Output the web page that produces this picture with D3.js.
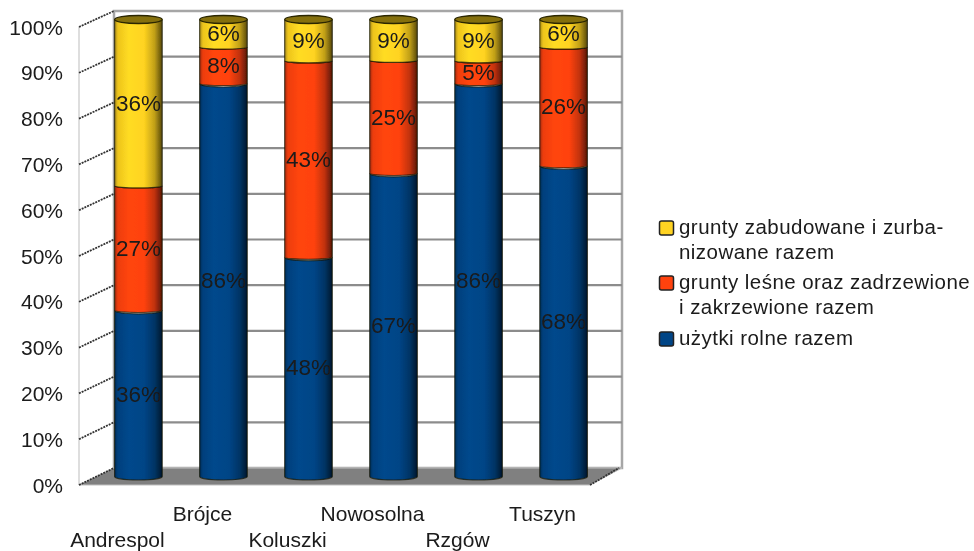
<!DOCTYPE html>
<html>
<head>
<meta charset="utf-8">
<script src="https://cdn.jsdelivr.net/npm/d3@7"></script>
<style>
  body { margin: 0; background: #fff; }
  svg { display: block; }
  text { font-family: "Liberation Sans", Arial, sans-serif; fill: #1a1a1a; }
</style>
</head>
<body>
<script>
// Chart data
const categories = ["Andrespol", "Brójce", "Koluszki", "Nowosolna", "Rzgów", "Tuszyn"];
const uzytki = [36, 86, 48, 67, 86, 68];
const lesne = [27, 8, 43, 25, 5, 26];
const zabudowane = [36, 6, 9, 9, 9, 6];
const seriesKeys = ["uzytki", "lesne", "zabudowane"];
const seriesColors = ["#004586", "#ff420e", "#ffd320"];
const yTicks = [0, 10, 20, 30, 40, 50, 60, 70, 80, 90, 100];

const rows = categories.map((name, i) => ({
  name, uzytki: uzytki[i], lesne: lesne[i], zabudowane: zabudowane[i]
}));

const width = 974;
const height = 551;

// Front edge of the plot and the 3D depth offset to the back wall
const frontLeft = 79;
const frontRight = 590;
const backLeft = 114;
const backRight = 622;

const yFront = d3.scaleLinear().domain([0, 100]).range([485, 27]);
const yBack = d3.scaleLinear().domain([0, 100]).range([468, 11]);
const yBar = d3.scaleLinear().domain([0, 1]).range([476.5, 19.5]);

const x = d3.scaleBand()
  .domain(categories)
  .range([101, 601])
  .paddingInner(0.44)
  .paddingOuter(0.16);

const svg = d3.select("body")
  .append("svg")
  .attr("width", width)
  .attr("height", height)
  .attr("viewBox", [0, 0, width, height]);

const defs = svg.append("defs");

// Soft blur, the reference is an upscaled screenshot
defs.append("filter").attr("id", "soft")
  .append("feGaussianBlur").attr("stdDeviation", 0.5);

// Horizontal shading of each cylinder
seriesColors.forEach((color, i) => {
  const g = defs.append("linearGradient").attr("id", `cyl${i}`);
  const c = d3.color(color);
  [[0, c.darker(1.2)], [0.07, c.darker(0.2)], [0.3, c.brighter(0.12)], [0.62, c], [0.84, c.darker(0.8)], [1, c.darker(3)]]
    .forEach(([o, col]) => g.append("stop").attr("offset", o).attr("stop-color", col));
});

const root = svg.append("g").attr("filter", "url(#soft)");

// Back wall
root.append("rect")
  .attr("x", backLeft)
  .attr("y", yBack(100))
  .attr("width", backRight - backLeft)
  .attr("height", yBack(0) - yBack(100))
  .attr("fill", "#fff")
  .attr("stroke", "#a6a6a6")
  .attr("stroke-width", 2.5);

// Left wall edge
root.append("path")
  .attr("d", `M${frontLeft},${yFront(0)}V${yFront(100)}`)
  .attr("stroke", "#bdbdbd")
  .attr("fill", "none");

// Floor
root.append("path")
  .attr("d", d3.line()([
    [frontLeft, yFront(0)],
    [backLeft, yBack(0)],
    [backRight, yBack(0)],
    [frontRight, yFront(0)]
  ]) + "Z")
  .attr("fill", "#808080")
  .attr("stroke", "#c0c0c0");

// Grid lines: back wall plus the slanted part on the left wall
const grid = root.append("g").selectAll("g").data(yTicks).join("g");
grid.filter(d => d > 0 && d < 100).append("line")
  .attr("x1", backLeft)
  .attr("x2", backRight)
  .attr("y1", d => yBack(d))
  .attr("y2", d => yBack(d))
  .attr("stroke", "#8c8c8c")
  .attr("stroke-width", 2.2);
grid.append("line")
  .attr("x1", frontLeft)
  .attr("x2", backLeft)
  .attr("y1", d => yFront(d))
  .attr("y2", d => yBack(d))
  .attr("stroke", "#333")
  .attr("stroke-width", 1.8)
  .attr("stroke-dasharray", "2 1");

// Dashed right edge of the floor
root.append("line")
  .attr("x1", frontRight)
  .attr("x2", backRight - 3)
  .attr("y1", yFront(0))
  .attr("y2", yBack(0))
  .attr("stroke", "#333")
  .attr("stroke-width", 1.8)
  .attr("stroke-dasharray", "2 1");

// Y axis labels
root.append("g").selectAll("text").data(yTicks).join("text")
  .attr("x", 63)
  .attr("y", d => yFront(d))
  .attr("dy", "0.36em")
  .attr("text-anchor", "end")
  .attr("font-size", 21)
  .text(d => d + "%");

// Stacked cylinders
const stack = d3.stack().keys(seriesKeys).offset(d3.stackOffsetExpand);
const stacked = stack(rows);

// One cylinder segment: curved bottom and top edge
function segment(x0, w, y0, y1, ry) {
  const r = w / 2;
  return `M${x0},${y1}A${r},${ry} 0 0 0 ${x0 + w},${y1}V${y0}A${r},${ry} 0 0 1 ${x0},${y0}Z`;
}

stacked.forEach((layer, s) => {
  const g = root.append("g");
  g.selectAll("path").data(layer).join("path")
    .attr("d", d => segment(x(d.data.name), x.bandwidth(), yBar(d[1]), yBar(d[0]), s === 0 ? 3.5 : 2.2))
    .attr("fill", `url(#cyl${s})`)
    .attr("stroke", "#141400")
    .attr("stroke-opacity", 0.7)
    .attr("stroke-width", 1.2);
});

// Top caps of the cylinders
root.append("g").selectAll("ellipse").data(categories).join("ellipse")
  .attr("cx", d => x(d) + x.bandwidth() / 2)
  .attr("cy", yBar(1))
  .attr("rx", x.bandwidth() / 2)
  .attr("ry", 4)
  .attr("fill", "#85700f")
  .attr("stroke", "#2a2600")
  .attr("stroke-width", 1.3);

// Value labels centred on each segment
stacked.forEach((layer, s) => {
  const raw = [uzytki, lesne, zabudowane][s];
  root.append("g").selectAll("text").data(layer).join("text")
    .attr("x", d => x(d.data.name) + x.bandwidth() / 2)
    .attr("y", d => (yBar(d[0]) + yBar(d[1])) / 2)
    .attr("dy", "0.36em")
    .attr("text-anchor", "middle")
    .attr("font-size", 22.5)
    .text((d, i) => raw[i] + "%");
});

// Category labels, staggered on two rows
root.append("g").selectAll("text").data(categories).join("text")
  .attr("x", d => x(d) + x.bandwidth() / 2 - 21)
  .attr("y", (d, i) => i % 2 ? 521 : 547)
  .attr("text-anchor", "middle")
  .attr("font-size", 21)
  .text(d => d);

// Legend
const legendItems = [
  { color: seriesColors[2], lines: ["grunty zabudowane i zurba-", "nizowane razem"], y: 227 },
  { color: seriesColors[1], lines: ["grunty leśne oraz zadrzewione", "i zakrzewione razem"], y: 282 },
  { color: seriesColors[0], lines: ["użytki rolne razem"], y: 338 }
];

const legend = root.append("g").selectAll("g").data(legendItems).join("g");
legend.append("rect")
  .attr("x", 659.5)
  .attr("y", d => d.y - 6)
  .attr("width", 14)
  .attr("height", 14)
  .attr("rx", 2)
  .attr("fill", d => d.color)
  .attr("stroke", "#222")
  .attr("stroke-width", 1.5);
legend.selectAll("text").data(d => d.lines.map((t, i) => ({ t, y: d.y + i * 25 }))).join("text")
  .attr("x", 679)
  .attr("y", d => d.y)
  .attr("dy", "0.36em")
  .attr("font-size", 20.5)
  .attr("letter-spacing", 0.45)
  .text(d => d.t);
</script>
</body>
</html>
